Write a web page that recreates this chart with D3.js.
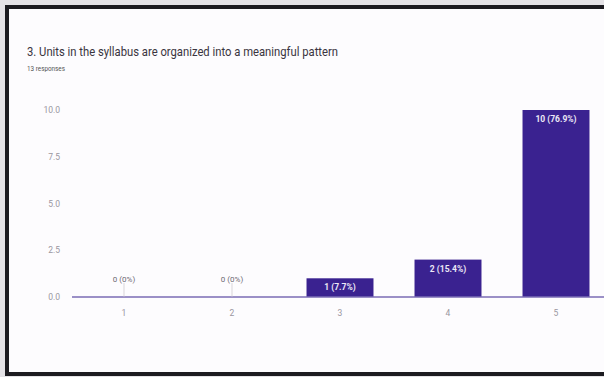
<html>
<script src='https://d3js.org/d3.v7.min.js'></script>
<style>
 body {margin:0; background:#e4e2e6;}
 text {font-family: Roboto, "Liberation Sans", sans-serif;}
</style>
<body onload='init()'>
<svg width=604 height=377></svg>
<script>
// chart data
var categories = ["1", "2", "3", "4", "5"];
var counts = [0, 0, 1, 2, 10];
var pctLabels = ["0%", "0%", "7.7%", "15.4%", "76.9%"];
var yTicks = [0, 2.5, 5, 7.5, 10];
var title = "3. Units in the syllabus are organized into a meaningful pattern";
var subtitle = "13 responses";

function init() {
  var svg = d3.select("svg");

  // photo frame
  svg.append("rect").attr("x", 7).attr("y", 7).attr("width", 620).attr("height", 367)
    .attr("fill", "#fdfcfe").attr("stroke", "#1c1b20").attr("stroke-width", 4);

  svg.append("text").attr("x", 27).attr("y", 56).text(title)
    .attr("font-size", 13.5).attr("fill", "#3a3540")
    .attr("textLength", 311).attr("lengthAdjust", "spacingAndGlyphs");
  svg.append("text").attr("x", 27).attr("y", 71).text(subtitle)
    .attr("font-size", 8).attr("fill", "#555")
    .attr("textLength", 38).attr("lengthAdjust", "spacingAndGlyphs");

  var x = d3.scaleBand().domain(categories).range([70, 610]).paddingInner(0.38).paddingOuter(0.19);
  var y = d3.scaleLinear().domain([0, 10]).range([297, 110]);

  // y axis labels
  var ya = svg.append("g").attr("transform", "translate(60,0)")
    .call(d3.axisLeft(y).tickValues(yTicks).tickFormat(d3.format(".1f")).tickSize(0).tickPadding(0));
  ya.select(".domain").remove();
  ya.selectAll("text").attr("fill", "#9a96a0").attr("font-size", 8.5).attr("font-family", "Roboto");

  var bars = svg.append("g");
  bars.selectAll("rect").data(counts).enter().append("rect")
    .attr("x", function (d, i) { return x(categories[i]); })
    .attr("y", function (d) { return y(d); })
    .attr("width", x.bandwidth())
    .attr("height", function (d) { return y(0) - y(d); })
    .attr("fill", "#3a2290");

  // x axis
  var xa = svg.append("g").attr("transform", "translate(0,297)")
    .call(d3.axisBottom(x).tickSize(0).tickPadding(13));
  xa.select(".domain").attr("d", "M72,0H604").attr("stroke", "#7a6cb4").attr("stroke-width", 1.5);
  xa.selectAll("text").attr("fill", "#9a96a0").attr("font-size", 8.5).attr("font-family", "Roboto");

  // value labels
  var lab = svg.append("g");
  counts.forEach(function (d, i) {
    var cx = x(categories[i]) + x.bandwidth() / 2;
    var txt = d + " (" + pctLabels[i] + ")";
    if (d === 0) {
      lab.append("line").attr("x1", cx).attr("x2", cx).attr("y1", 283).attr("y2", 297)
        .attr("stroke", "#c8c4cc").attr("stroke-width", 0.7);
      lab.append("text").attr("x", cx).attr("y", y(0) - 15).attr("text-anchor", "middle")
        .attr("font-size", 8).attr("fill", "#6e6a74").text(txt);
    } else {
      lab.append("text").attr("x", cx).attr("y", y(d) + 12).attr("text-anchor", "middle")
        .attr("font-size", 8.5).attr("font-weight", "bold").attr("fill", "#ece8f6").text(txt);
    }
  });
}
</script>
</body>
</html>
